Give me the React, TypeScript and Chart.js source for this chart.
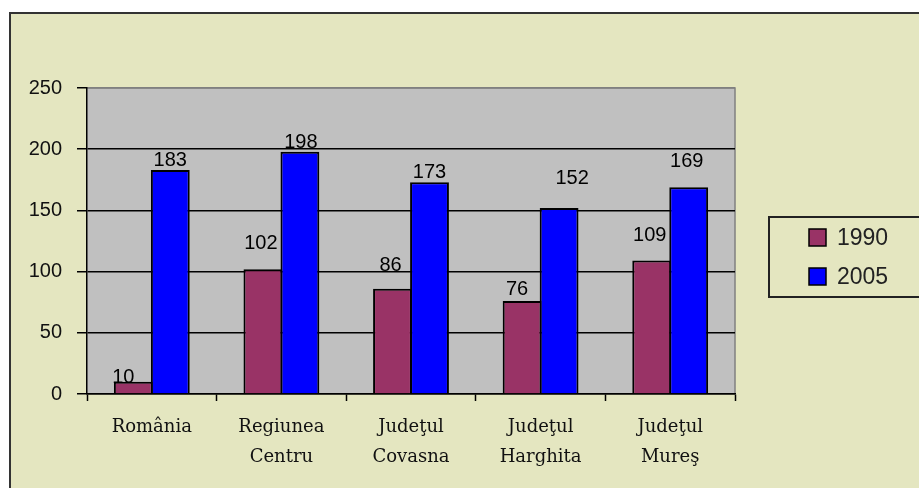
import React, { useEffect, useRef } from "react";
import { Chart, registerables } from "chart.js";

Chart.register(...registerables);

const categories: string[][] = [
  ["România"],
  ["Regiunea", "Centru"],
  ["Judeţul", "Covasna"],
  ["Judeţul", "Harghita"],
  ["Judeţul", "Mureş"],
];
const seriesNames = ["1990", "2005"];
const values1990 = [10, 102, 86, 76, 109];
const values2005 = [183, 198, 173, 152, 169];
const yTicks = [0, 50, 100, 150, 200, 250];

// label placement tweaks (style only): [dx, gap above bar top]
const labelTweaks1990: [number, number][] = [[-10, -1], [-2, 20], [-2, 18], [-5, 6], [-2, 20]];
const labelTweaks2005: [number, number][] = [[0, 4], [1, 4], [0, 4], [13, 24], [-2, 20]];

const COLORS = ["#993366", "#0000ff"];

const framePlugin = {
  id: "frame",
  beforeDraw(chart: any) {
    const { ctx, chartArea } = chart;
    ctx.save();
    ctx.fillStyle = "#ffffff";
    ctx.fillRect(0, 0, chart.width, chart.height);
    ctx.fillStyle = "#e4e6c0";
    ctx.fillRect(10, 13, chart.width, chart.height);
    ctx.strokeStyle = "#333333";
    ctx.lineWidth = 2;
    ctx.strokeRect(10, 13, chart.width + 10, chart.height + 10);
    ctx.fillStyle = "#c0c0c0";
    ctx.fillRect(chartArea.left, chartArea.top, chartArea.right - chartArea.left, chartArea.bottom - chartArea.top);
    ctx.strokeStyle = "#808080";
    ctx.lineWidth = 1.5;
    ctx.beginPath();
    ctx.moveTo(chartArea.left, chartArea.top);
    ctx.lineTo(chartArea.right, chartArea.top);
    ctx.lineTo(chartArea.right, chartArea.bottom);
    ctx.stroke();
    ctx.restore();
  },
  afterDatasetsDraw(chart: any) {
    const { ctx } = chart;
    ctx.save();
    ctx.font = "20px 'Liberation Sans', Arial, sans-serif";
    ctx.fillStyle = "#000";
    ctx.textAlign = "center";
    ctx.textBaseline = "alphabetic";
    const tweaks = [labelTweaks1990, labelTweaks2005];
    chart.data.datasets.forEach((ds: any, i: number) => {
      const meta = chart.getDatasetMeta(i);
      meta.data.forEach((bar: any, j: number) => {
        const [dx, gap] = tweaks[i][j];
        ctx.fillText(String(ds.data[j]), bar.x + dx, bar.y - gap);
      });
    });
    // legend
    ctx.strokeStyle = "#222";
    ctx.lineWidth = 2;
    ctx.fillStyle = "#e4e6c0";
    ctx.fillRect(769, 217, 200, 80);
    ctx.strokeRect(769, 217, 200, 80);
    ctx.font = "23px 'Liberation Sans', Arial, sans-serif";
    ctx.textAlign = "left";
    ctx.textBaseline = "middle";
    chart.data.datasets.forEach((ds: any, i: number) => {
      const y = 229 + i * 39;
      ctx.fillStyle = ds.backgroundColor;
      ctx.fillRect(809, y, 17, 17);
      ctx.strokeStyle = "#000";
      ctx.lineWidth = 1.5;
      ctx.strokeRect(809, y, 17, 17);
      ctx.fillStyle = "#222";
      ctx.fillText(ds.label, 837, y + 10);
    });
    ctx.restore();
  },
};

export default function App() {
  const ref = useRef<HTMLCanvasElement>(null);
  useEffect(() => {
    if (!ref.current) return;
    const chart = new Chart(ref.current, {
      type: "bar",
      data: {
        labels: categories,
        datasets: [
          { label: seriesNames[0], data: values1990, backgroundColor: COLORS[0], borderColor: "#000", borderWidth: 2 },
          { label: seriesNames[1], data: values2005, backgroundColor: COLORS[1], borderColor: "#000", borderWidth: 2 },
        ],
      },
      options: {
        animation: false,
        responsive: false,
        maintainAspectRatio: false,
        devicePixelRatio: 1,
        layout: { padding: { left: 0, top: 88, right: 184, bottom: 0 } },
        datasets: { bar: { categoryPercentage: 0.571, barPercentage: 1.05 } },
        plugins: { legend: { display: false }, tooltip: { enabled: false } },
        scales: {
          x: {
            grid: { offset: true, drawOnChartArea: false, tickLength: 7, color: "#000", tickWidth: 1.5 },
            border: { display: true, color: "#000", width: 1.5 },
            ticks: {
              color: "#111",
              padding: 11,
              maxRotation: 0,
              autoSkip: false,
              font: { family: "'DejaVu Serif', serif", size: 18, lineHeight: 1.68 },
            },
            afterFit(scale: any) { scale.height = 94; },
          },
          y: {
            min: 0,
            max: 250,
            afterBuildTicks(scale: any) { scale.ticks = yTicks.map((v) => ({ value: v })); },
            grid: {
              color: (c: any) => (c.tick && c.tick.value === 250 ? "#808080" : "#000"),
              tickColor: "#000",
              tickLength: 10,
              lineWidth: 1.5,
            },
            border: { display: true, color: "#000", width: 1.5 },
            ticks: {
              color: "#111",
              padding: 15,
              font: { family: "'Liberation Sans', Arial, sans-serif", size: 20 },
            },
            afterFit(scale: any) { scale.width = 87; },
          },
        },
      },
      plugins: [framePlugin],
    });
    return () => chart.destroy();
  }, []);
  return (
    <div style={{ position: "absolute", left: 0, top: 0, width: 919, height: 488 }}>
      <canvas ref={ref} width={919} height={488} style={{ display: "block" }} />
    </div>
  );
}
